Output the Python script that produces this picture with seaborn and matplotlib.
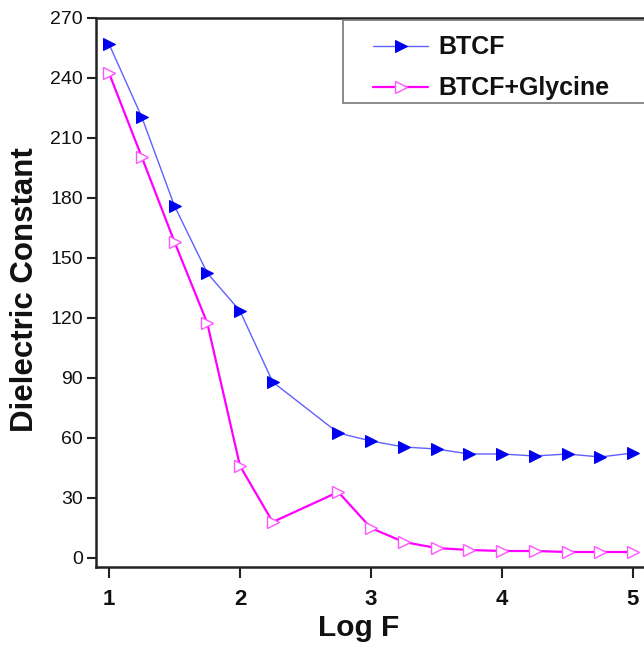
import matplotlib
matplotlib.use("Agg")
import matplotlib.pyplot as plt
from matplotlib.patches import Rectangle
import seaborn as sns
import pandas as pd

log_f = [1.0, 1.25, 1.5, 1.75, 2.0, 2.25, 2.75, 3.0, 3.25, 3.5, 3.75, 4.0, 4.25, 4.5, 4.75, 5.0]
btcf = [257, 220.5, 176, 142.5, 123.5, 88, 62.5, 58.5, 55.5, 54.5, 52, 52, 51, 52, 50.5, 52.5]
btcf_gly = [242.5, 200.5, 158, 117.5, 46, 18, 33, 15, 8, 5, 4, 3.5, 3.5, 3, 3, 3]
x_ticks = [1, 2, 3, 4, 5]
y_ticks = [0, 30, 60, 90, 120, 150, 180, 210, 240, 270]

sns.set_theme(style="ticks")
plt.rcParams['font.family'] = ['Liberation Sans', 'DejaVu Sans']

df1 = pd.DataFrame({"LogF": log_f, "val": btcf})
df2 = pd.DataFrame({"LogF": log_f, "val": btcf_gly})

W, H = 644, 646
fig = plt.figure(figsize=(W / 100, H / 100), dpi=100)
left, right, top, bottom = 96, 660, 18, 567
ax = fig.add_axes([left / W, 1 - bottom / H, (right - left) / W, (bottom - top) / H])

sns.lineplot(data=df1, x="LogF", y="val", ax=ax, color="#6060ff", lw=1.0,
             marker=">", markersize=8, markerfacecolor="#0000f0",
             markeredgecolor="#0000f0", label="BTCF")
sns.lineplot(data=df2, x="LogF", y="val", ax=ax, color="#ff00ff", lw=1.6,
             marker=">", markersize=8, markerfacecolor="white",
             markeredgecolor="#ff55ff", markeredgewidth=1.0, label="BTCF+Glycine")

x_per = 131.0
ax.set_xlim(1 - (109 - left) / x_per, 1 + (right - 109) / x_per)
ax.set_ylim((558 - bottom) / 2.0, 270)
ax.set_xticks(x_ticks)
ax.set_yticks(y_ticks)
ax.tick_params(axis="y", direction="out", length=6.5, width=1.5, labelsize=14,
               color="#222222", pad=3, labelcolor="#111111")
ax.tick_params(axis="x", direction="out", length=8, width=1.5, labelsize=16,
               color="#222222", pad=8, labelcolor="#111111")
for lab in ax.get_xticklabels():
    lab.set_fontweight("bold")
for s in ["left", "bottom", "top"]:
    ax.spines[s].set_linewidth(1.8)
    ax.spines[s].set_color("#222222")
ax.spines["right"].set_visible(False)

ax.set_xlabel("Log F", fontsize=21.5, fontweight="bold", color="#111111")
ax.xaxis.set_label_coords((359 - left) / (right - left), -(636 - bottom) / (bottom - top), transform=ax.transAxes)
ax.xaxis.label.set_va("baseline")
ax.set_ylabel("Dielectric Constant", fontsize=22.5, fontweight="bold", color="#111111")
ax.yaxis.set_label_coords(-(96 - 25) / (right - left), 0.5 - (290 - 292.5) / (bottom - top))
ax.yaxis.label.set_va("center")

# legend frame
frame = Rectangle((343 / W, 1 - 103 / H), (W + 10 - 343) / W, (103 - 20) / H,
                  transform=fig.transFigure, facecolor="white",
                  edgecolor="#777777", linewidth=1.2, zorder=4, clip_on=False)
ax.add_patch(frame)
leg = ax.legend(loc="upper left",
                bbox_to_anchor=((373 - 6 - left) / (right - left), 1 - (29 - top) / (bottom - top)),
                prop={"weight": "bold", "size": 18}, frameon=False,
                handlelength=2.2, handletextpad=0.4, borderpad=0.25,
                labelspacing=0.69, borderaxespad=0)
for t in leg.get_texts():
    t.set_color("#111111")
leg.set_zorder(6)

fig.savefig("out.png", dpi=100)
